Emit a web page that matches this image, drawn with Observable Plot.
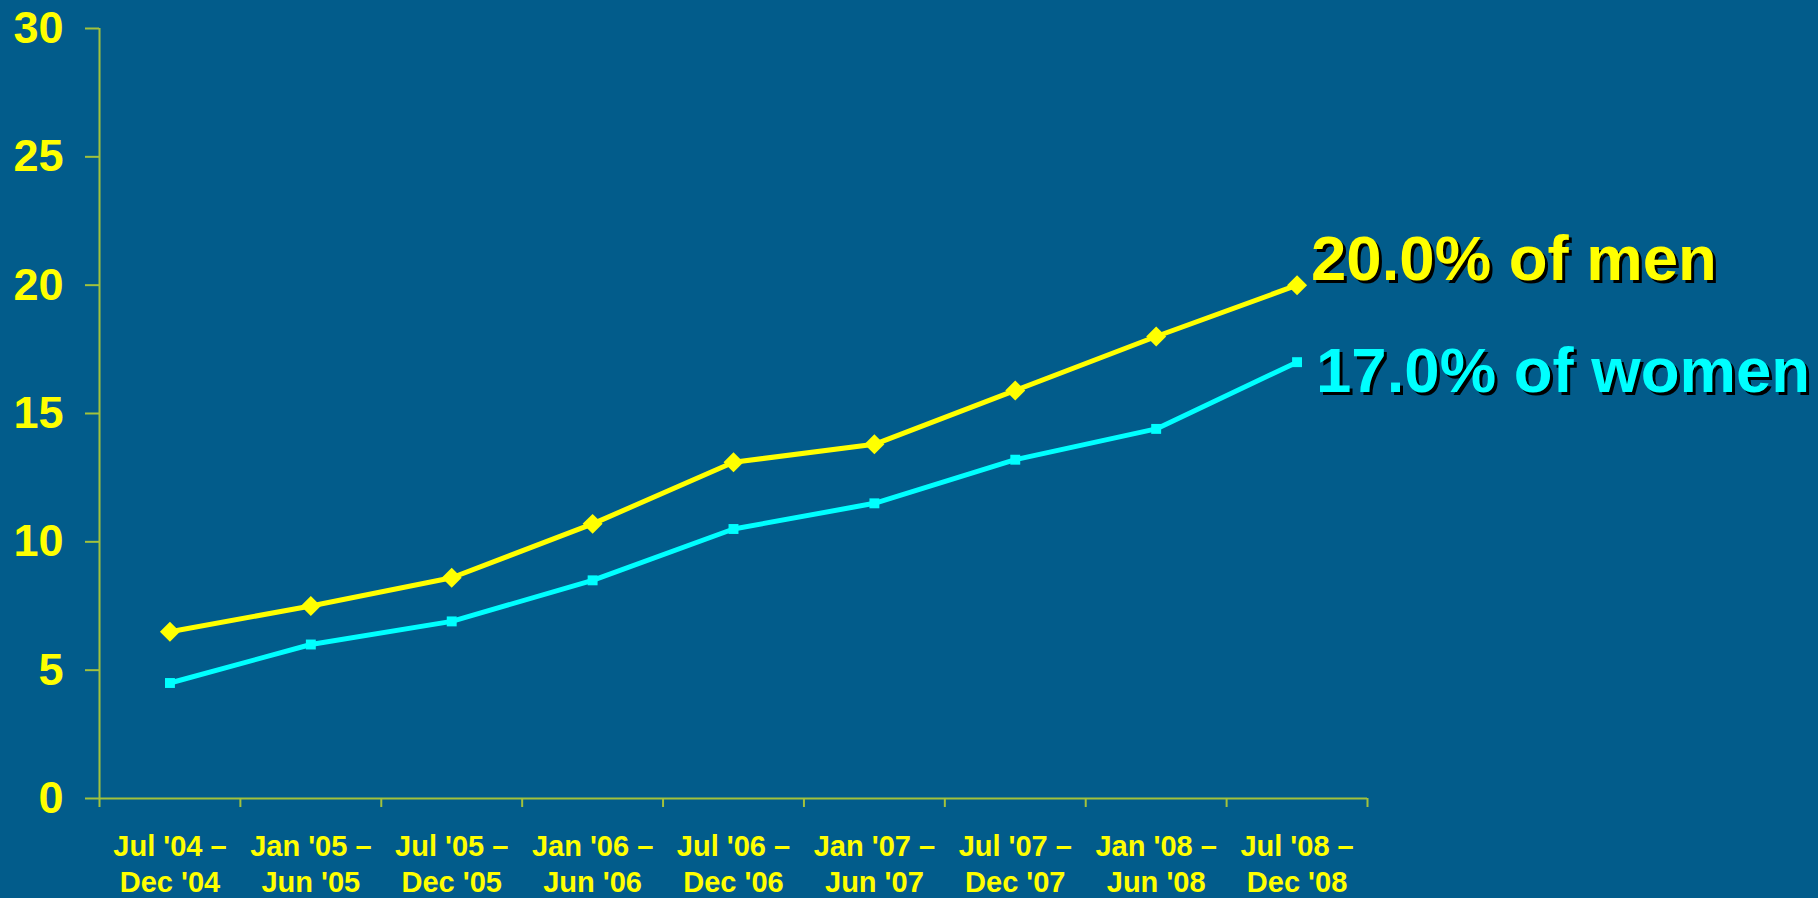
<!DOCTYPE html>
<html><head><meta charset="utf-8">
<script src="https://cdn.jsdelivr.net/npm/d3@7"></script>
<script src="https://cdn.jsdelivr.net/npm/@observablehq/plot@0.6"></script>
<style>html,body{margin:0;padding:0;background:#025c8b;overflow:hidden}</style>
</head><body><div id="chart"></div>
<script>
const periods = ["Jul '04 –\nDec '04","Jan '05 –\nJun '05","Jul '05 –\nDec '05","Jan '06 –\nJun '06","Jul '06 –\nDec '06","Jan '07 –\nJun '07","Jul '07 –\nDec '07","Jan '08 –\nJun '08","Jul '08 –\nDec '08"];
const men = [6.5, 7.5, 8.6, 10.7, 13.1, 13.8, 15.9, 18.0, 20.0];
const women = [4.5, 6.0, 6.9, 8.5, 10.5, 11.5, 13.2, 14.4, 17.0];
const yTicks = [0, 5, 10, 15, 20, 25, 30];
const seriesNames = ["men", "women"];
const seriesLabels = ["20.0% of men", "17.0% of women"];
const seriesColors = ["#ffff00", "#00ffff"];

const axisColor = "#a3c23c";
const bg = "#025c8b";
const font = "'Liberation Sans', Arial, sans-serif";

const rows = periods.flatMap((p, i) => [
  {i, series: "men", value: men[i]},
  {i, series: "women", value: women[i]}
]);
const idx = periods.map((_, i) => i);
const bounds = d3.range(periods.length + 1).map(i => i - 0.5);
const last = periods.length - 1;
const endMen = [{i: last, value: men[last], label: seriesLabels[0]}];
const endWomen = [{i: last, value: women[last], label: seriesLabels[1]}];

const chart = Plot.plot({
  width: 1818, height: 898,
  marginLeft: 99, marginRight: 451, marginTop: 28, marginBottom: 100,
  style: {background: bg, fontFamily: font, overflow: "visible"},
  x: {type: "linear", domain: [-0.5, periods.length - 0.5]},
  y: {domain: [0, 30]},
  color: {domain: seriesNames, range: seriesColors},
  marks: [
    Plot.axisY({ticks: yTicks, tickSize: 14, tickFormat: () => "", color: axisColor, strokeWidth: 2, label: null}),
    Plot.axisY({ticks: yTicks, tickSize: 0, tickPadding: 36, color: "#ffff00", fontSize: 45, fontWeight: "bold", label: null}),
    Plot.axisX({ticks: bounds, tickSize: 9, tickFormat: () => "", color: axisColor, strokeWidth: 2, label: null}),
    Plot.axisX({ticks: idx, tickSize: 0, tickPadding: 32, tickFormat: i => periods[i], color: "#ffff00", fontSize: 29, fontWeight: "bold", lineHeight: 1.24, label: null}),
    Plot.ruleX([-0.5], {stroke: axisColor, strokeWidth: 2}),
    Plot.ruleY([0], {stroke: axisColor, strokeWidth: 2}),
    Plot.line(rows, {x: "i", y: "value", z: "series", stroke: "series", strokeWidth: 5}),
    Plot.dot(rows.filter(d => d.series === "men"), {x: "i", y: "value", symbol: "diamond2", r: 9, fill: "series", stroke: null}),
    Plot.dot(rows.filter(d => d.series === "women"), {x: "i", y: "value", symbol: "square", r: 5.6, fill: "series", stroke: null}),
    Plot.text(endMen, {x: "i", y: "value", text: "label", textAnchor: "start", dx: 17, dy: -22, fontSize: 63.5, fontWeight: "bold", fill: "#000"}),
    Plot.text(endMen, {x: "i", y: "value", text: "label", textAnchor: "start", dx: 14, dy: -25, fontSize: 63.5, fontWeight: "bold", fill: seriesColors[0]}),
    Plot.text(endWomen, {x: "i", y: "value", text: "label", textAnchor: "start", dx: 22, dy: 13, fontSize: 63.5, fontWeight: "bold", fill: "#000"}),
    Plot.text(endWomen, {x: "i", y: "value", text: "label", textAnchor: "start", dx: 19, dy: 10, fontSize: 63.5, fontWeight: "bold", fill: seriesColors[1]})
  ]
});
document.getElementById("chart").appendChild(chart);
</script>
</body></html>
